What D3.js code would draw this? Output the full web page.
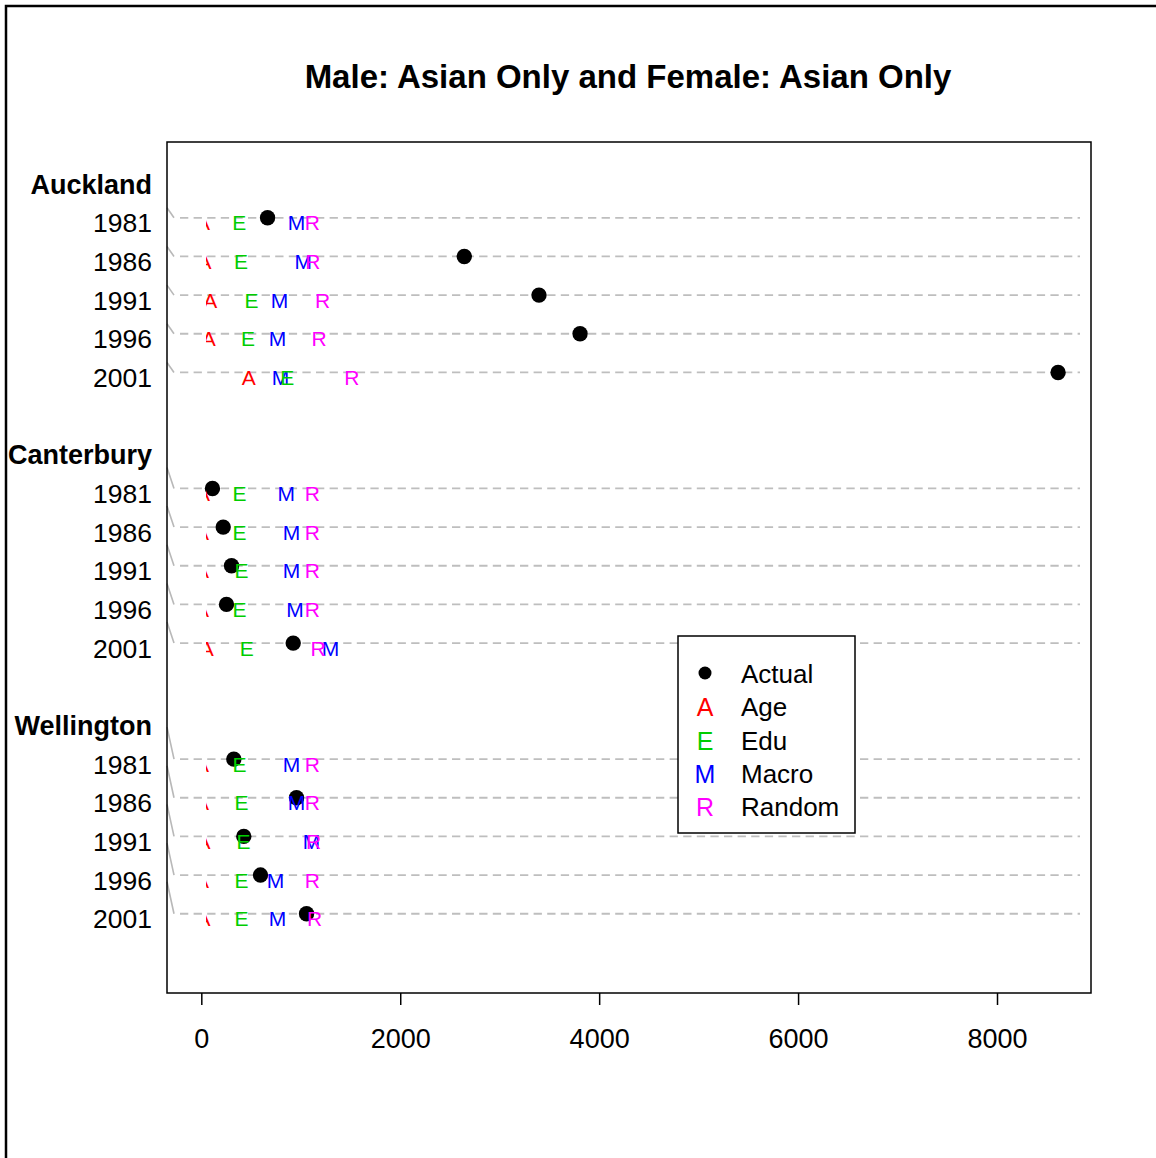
<!DOCTYPE html>
<html>
<head>
<meta charset="utf-8">
<script src="https://cdn.jsdelivr.net/npm/d3@7"></script>
<style>
  body { margin: 0; background: #fff; }
  text { font-family: "Liberation Sans", Arial, sans-serif; }
</style>
</head>
<body>
<div id="chart-area"></div>
<script>
// data
const regions = ["Auckland", "Canterbury", "Wellington"];
const years = ["1981", "1986", "1991", "1996", "2001"];
const actual = [661, 2639, 3390, 3803, 8609, 107, 215, 299, 248, 919, 322, 952, 422, 590, 1053];
const age = [12, 27, 84, 70, 471, 12, 3, 3, 3, 50, 3, 3, 17, 3, 17];
const edu = [377, 393, 500, 465, 860, 379, 379, 399, 379, 451, 379, 399, 419, 399, 399];
const macro = [953, 1019, 782, 761, 790, 848, 902, 902, 936, 1293, 902, 952, 1103, 741, 761];
const random = [1112, 1117, 1214, 1180, 1509, 1112, 1112, 1112, 1112, 1170, 1112, 1112, 1124, 1112, 1134];
const xTicks = [0, 2000, 4000, 6000, 8000];
const legendLabels = ["Actual", "Age", "Edu", "Macro", "Random"];

const chartAreaWidth = 1156;
const chartAreaHeight = 1158;
const frame = {left: 167, right: 1091, top: 142, bottom: 993};

const series = [
    {key: "A", values: age, color: "#ff0000"},
    {key: "M", values: macro, color: "#0000ff"},
    {key: "E", values: edu, color: "#00cd00"},
    {key: "R", values: random, color: "#ff00ff"}
];

const svg = d3.select("#chart-area").append("svg")
    .attr("width", chartAreaWidth)
    .attr("height", chartAreaHeight);

// outer border (only left and top are on screen)
svg.append("rect")
    .attr("x", 6)
    .attr("y", 6)
    .attr("width", 1300)
    .attr("height", 1300)
    .attr("fill", "none")
    .attr("stroke", "#000")
    .attr("stroke-width", 2.5);

const x = d3.scaleLinear()
    .domain([-350, 8940])
    .range([frame.left, frame.right]);

// line index: group label at g*7, its rows at g*7+1 .. g*7+5
const y = d3.scaleLinear()
    .domain([-0.96, 21.05])
    .range([frame.top, frame.bottom]);

const rows = [];
regions.forEach((r, g) => {
    years.forEach((yr, i) => {
        rows.push({region: g, year: yr, pos: g * 7 + 1 + i, idx: g * 5 + i});
    });
});

// Title
svg.append("text")
    .attr("x", 628)
    .attr("y", 88)
    .attr("text-anchor", "middle")
    .attr("font-size", "33px")
    .attr("font-weight", "bold")
    .text("Male: Asian Only and Female: Asian Only");

// dashed guide lines
svg.append("g")
    .selectAll("line")
    .data(rows)
    .join("line")
    .attr("x1", frame.left + 13)
    .attr("x2", frame.right - 11)
    .attr("y1", d => y(d.pos))
    .attr("y2", d => y(d.pos))
    .attr("stroke", "#bebebe")
    .attr("stroke-width", 1.8)
    .attr("stroke-dasharray", "8.3,5.3");

// little grey leaders on the left edge
svg.append("g")
    .selectAll("line")
    .data(rows)
    .join("line")
    .attr("x1", frame.left)
    .attr("x2", frame.left + 7)
    .attr("y1", d => y(d.pos) - (10 + 11 * d.region))
    .attr("y2", d => y(d.pos))
    .attr("stroke", "#b8b8b8")
    .attr("stroke-width", 1.6);

// row labels
svg.append("g")
    .selectAll("text")
    .data(rows)
    .join("text")
    .attr("x", 152)
    .attr("y", d => y(d.pos) + 14.5)
    .attr("text-anchor", "end")
    .attr("font-size", "26.5px")
    .text(d => d.year);

svg.append("g")
    .selectAll("text")
    .data(regions)
    .join("text")
    .attr("x", 152)
    .attr("y", (d, g) => y(g * 7) + 14.5)
    .attr("text-anchor", "end")
    .attr("font-size", "27px")
    .attr("font-weight", "bold")
    .text(d => d);

// actual points
svg.append("g")
    .selectAll("circle")
    .data(rows)
    .join("circle")
    .attr("cx", d => x(actual[d.idx]))
    .attr("cy", d => y(d.pos))
    .attr("r", 7.7)
    .attr("fill", "#000");

// letters are cut off just right of zero, like the original
svg.append("clipPath")
    .attr("id", "letter-clip")
    .append("rect")
    .attr("x", x(42))
    .attr("y", frame.top)
    .attr("width", frame.right - x(42))
    .attr("height", frame.bottom - frame.top);

const letters = svg.append("g").attr("clip-path", "url(#letter-clip)");
series.forEach(s => {
    letters.append("g")
        .selectAll("text")
        .data(rows)
        .join("text")
        .attr("x", d => x(s.values[d.idx]))
        .attr("y", d => y(d.pos) + 12.5)
        .attr("text-anchor", "middle")
        .attr("font-size", "21px")
        .attr("fill", s.color)
        .text(s.key);
});

// frame
svg.append("rect")
    .attr("x", frame.left)
    .attr("y", frame.top)
    .attr("width", frame.right - frame.left)
    .attr("height", frame.bottom - frame.top)
    .attr("fill", "none")
    .attr("stroke", "#000")
    .attr("stroke-width", 1.5);

// x axis
const xAxis = svg.append("g")
    .attr("transform", `translate(0, ${frame.bottom})`);
xAxis.selectAll("line")
    .data(xTicks)
    .join("line")
    .attr("x1", d => x(d))
    .attr("x2", d => x(d))
    .attr("y1", 0)
    .attr("y2", 12)
    .attr("stroke", "#000")
    .attr("stroke-width", 1.5);
xAxis.selectAll("text")
    .data(xTicks)
    .join("text")
    .attr("x", d => x(d))
    .attr("y", 55)
    .attr("text-anchor", "middle")
    .attr("font-size", "27px")
    .text(d => d);

// legend
const legend = svg.append("g");
legend.append("rect")
    .attr("x", 678)
    .attr("y", 636)
    .attr("width", 177)
    .attr("height", 197)
    .attr("fill", "#fff")
    .attr("stroke", "#000")
    .attr("stroke-width", 1.5);

const legendItems = legend.selectAll("g")
    .data(legendLabels)
    .join("g")
    .attr("transform", (d, i) => `translate(0, ${673 + i * 33.3})`);

legendItems.append("text")
    .attr("x", 741)
    .attr("y", 10)
    .attr("font-size", "26px")
    .text(d => d);

legendItems.filter((d, i) => i === 0)
    .append("circle")
    .attr("cx", 705)
    .attr("cy", 0)
    .attr("r", 6.5)
    .attr("fill", "#000");

const legendKeys = ["A", "E", "M", "R"];
const legendColors = {A: "#ff0000", E: "#00cd00", M: "#0000ff", R: "#ff00ff"};
legendItems.filter((d, i) => i > 0)
    .append("text")
    .attr("x", 705)
    .attr("y", 10)
    .attr("text-anchor", "middle")
    .attr("font-size", "25px")
    .attr("fill", (d, i) => legendColors[legendKeys[i]])
    .text((d, i) => legendKeys[i]);
</script>
</body>
</html>
